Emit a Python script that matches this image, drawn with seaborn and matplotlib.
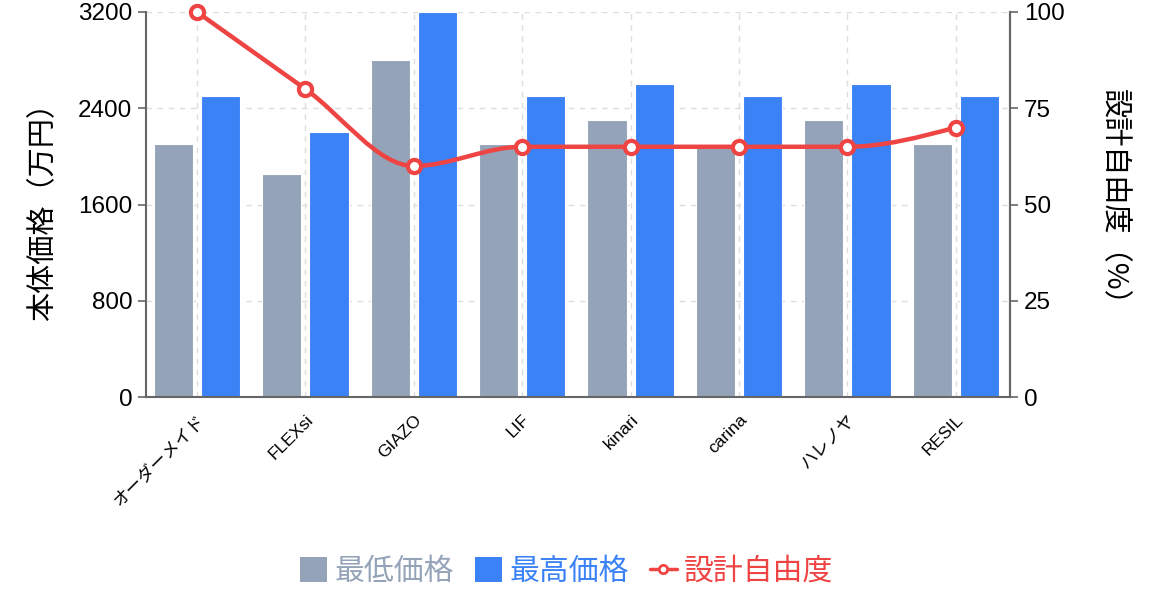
import numpy as np
import pandas as pd
import matplotlib
matplotlib.use("Agg")
import matplotlib.pyplot as plt
from matplotlib.path import Path
from matplotlib.patches import PathPatch
from matplotlib.lines import Line2D
from matplotlib.patches import Patch
import seaborn as sns

# -----------------------------
# data
# -----------------------------
brands = ["オーダーメイド", "FLEXsi", "GIAZO", "LIF", "kinari", "carina", "ハレノヤ", "RESIL"]
min_price = [2100, 1850, 2800, 2100, 2300, 2100, 2300, 2100]
max_price = [2500, 2200, 3200, 2500, 2600, 2500, 2600, 2500]
freedom = [100, 80, 60, 65, 65, 65, 65, 70]

gray = "#94a3b8"
blue = "#3b82f6"
red = "#ef4444"
tick_fonts = ["Liberation Sans", "Noto Sans CJK JP", "DejaVu Sans"]

sns.set_theme(style="white")
plt.rcParams["font.family"] = ["Noto Sans CJK JP", "DejaVu Sans"]
plt.rcParams["text.color"] = "black"
plt.rcParams["axes.labelcolor"] = "black"
plt.rcParams["xtick.labelcolor"] = "black"
plt.rcParams["ytick.labelcolor"] = "black"

df = pd.DataFrame({
    "brand": brands * 2,
    "price": min_price + max_price,
    "kind": ["最低価格"] * len(brands) + ["最高価格"] * len(brands),
})

fig = plt.figure(figsize=(11.59, 5.94), dpi=100)
ax = fig.add_axes([0.126, 0.3316, 0.7454, 0.6482])

sns.barplot(data=df, x="brand", y="price", hue="kind",
            palette=[gray, blue], saturation=1, width=0.87, gap=0.17,
            edgecolor="white", linewidth=0.8, legend=False, ax=ax, zorder=2)

ax.set_xlim(-0.47, 7.5)
ax.set_ylim(0, 3200)
ax.set_yticks([0, 800, 1600, 2400, 3200])
ax.grid(True, color="#dddddd", linestyle=(0, (4, 4)), linewidth=1, zorder=0)
ax.set_axisbelow(True)
ax.set_xlabel("")
ax.set_ylabel("本体価格（万円）", fontsize=21, labelpad=14)
ax.tick_params(axis="y", labelsize=17.5, length=6, width=1.2, color="#666666", pad=4)
ax.tick_params(axis="x", labelsize=12.5, length=8, width=1.2, color="#666666", pad=3)
plt.setp(ax.get_xticklabels(), rotation=45, ha="right", rotation_mode="anchor",
         family=tick_fonts)
plt.setp(ax.get_yticklabels(), family=tick_fonts)

ax.spines["top"].set_visible(False)
for side in ["left", "bottom", "right"]:
    ax.spines[side].set_color("#666666")
    ax.spines[side].set_linewidth(1.5)

# -----------------------------
# right axis: design freedom (monotone smoothed line)
# -----------------------------
ax2 = ax.twinx()
ax2.set_ylim(0, 100)
ax2.set_yticks([0, 25, 50, 75, 100])
ax2.tick_params(axis="y", labelsize=17.5, length=6, width=1.2, color="#666666", pad=4)
plt.setp(ax2.get_yticklabels(), family=tick_fonts)
ax2.set_ylabel("設計自由度（%）", fontsize=21, rotation=270, labelpad=46)
for side in ["top", "left", "bottom"]:
    ax2.spines[side].set_visible(False)
ax2.spines["right"].set_color("#666666")
ax2.spines["right"].set_linewidth(1.5)

xs = np.arange(len(freedom), dtype=float)
ys = np.array(freedom, dtype=float)
n = len(xs)
h = np.diff(xs)
s = np.diff(ys) / h
t = np.zeros(n)
for i in range(1, n - 1):
    p = (s[i - 1] * h[i] + s[i] * h[i - 1]) / (h[i - 1] + h[i])
    t[i] = (np.sign(s[i - 1]) + np.sign(s[i])) * min(abs(s[i - 1]), abs(s[i]), 0.5 * abs(p))
t[0] = (3 * s[0] - t[1]) / 2
t[-1] = (3 * s[-1] - t[-2]) / 2

verts = [(xs[0], ys[0])]
codes = [Path.MOVETO]
for i in range(n - 1):
    dx = (xs[i + 1] - xs[i]) / 3
    verts += [(xs[i] + dx, ys[i] + dx * t[i]),
              (xs[i + 1] - dx, ys[i + 1] - dx * t[i + 1]),
              (xs[i + 1], ys[i + 1])]
    codes += [Path.CURVE4] * 3
ax2.add_patch(PathPatch(Path(verts, codes), facecolor="none", edgecolor=red,
                        linewidth=3.2, zorder=3, clip_on=False))
ax2.plot(xs, ys, linestyle="none", marker="o", markersize=9.5,
         markerfacecolor="white", markeredgecolor=red, markeredgewidth=3,
         zorder=4, clip_on=False)

# -----------------------------
# legend
# -----------------------------
handles = [
    Patch(facecolor=gray, edgecolor="none"),
    Patch(facecolor=blue, edgecolor="none"),
    Line2D([0], [0], color=red, linewidth=2.5, marker="o", markersize=6,
           markerfacecolor="white", markeredgecolor=red, markeredgewidth=2),
]
fig.legend(handles, ["最低価格", "最高価格", "設計自由度"], loc="center",
           bbox_to_anchor=(0.489, 0.038), ncol=3, frameon=False, fontsize=21.5,
           labelcolor=[gray, blue, red], handlelength=0.9, handleheight=0.9,
           handletextpad=0.25, columnspacing=0.7)

fig.savefig("out.png", dpi=100)
